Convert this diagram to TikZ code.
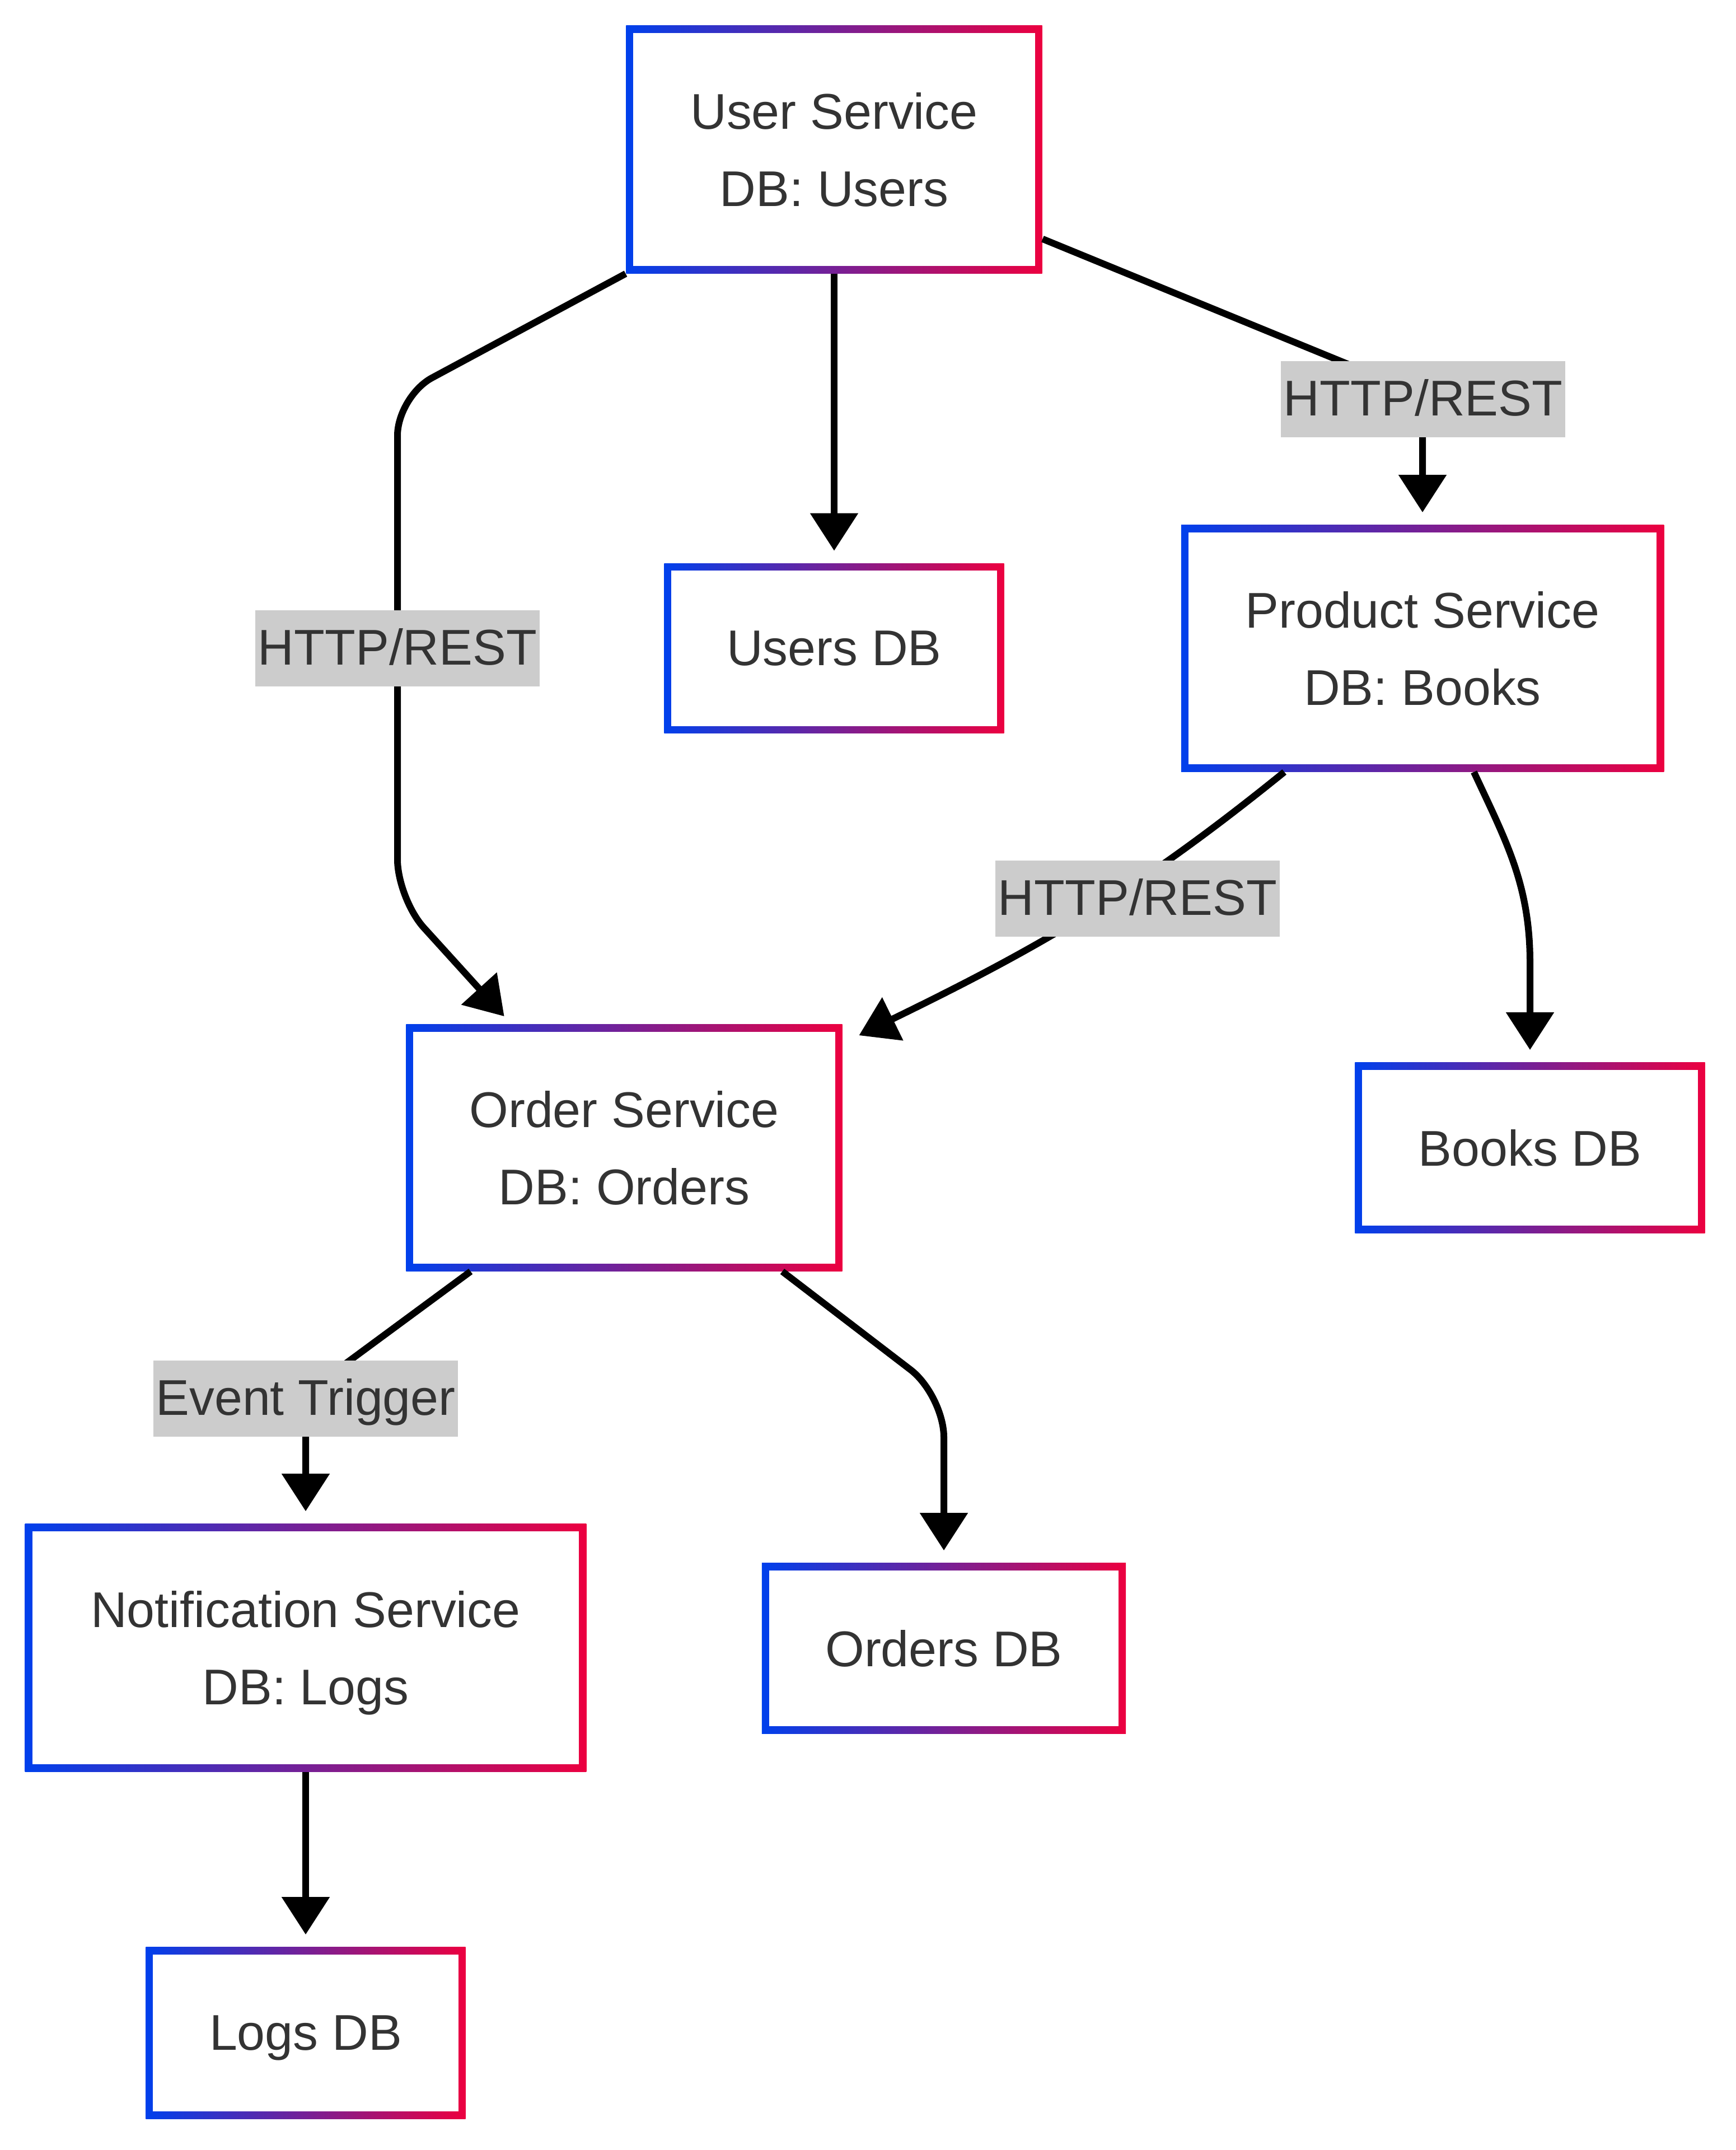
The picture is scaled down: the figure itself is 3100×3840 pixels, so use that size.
\documentclass[tikz,border=0pt]{standalone}
\usepackage{fontspec}
\setmainfont{Liberation Sans}
\usetikzlibrary{arrows.meta}

\definecolor{gblue}{RGB}{0,64,236}
\definecolor{gred}{RGB}{236,0,64}
\definecolor{txtgray}{RGB}{51,51,51}
\definecolor{lblgray}{RGB}{204,204,204}

\tikzset{
  svc/.style={rectangle, fill=white, inner sep=0pt, align=center, text=txtgray,
    text depth=0pt, font=\fontsize{25.5}{39}\selectfont,
    path picture={
      \shade[left color=gblue, right color=gred]
        (path picture bounding box.south west) rectangle (path picture bounding box.north east);
      \fill[white]
        ([shift={(0.13cm,0.13cm)}]path picture bounding box.south west) rectangle
        ([shift={(-0.13cm,-0.13cm)}]path picture bounding box.north east);
    }},
  lbl/.style={fill=lblgray, text=txtgray, inner xsep=0.05cm, inner ysep=0pt,
    minimum height=1.36cm, text height=0.7cm, text depth=0.12cm,
    font=\fontsize{25.5}{39}\selectfont},
  arr/.style={line width=0.12cm, -{Triangle[length=0.67cm,width=0.83cm]}, shorten >=0.22cm}
}

\begin{document}
\begin{tikzpicture}[x=0.01cm,y=0.01cm]
  \useasboundingbox[fill=white] (0,0) rectangle (3100,-3840);

  % Services and databases
  \node[svc, minimum width=7.43cm, minimum height=4.42cm] (us) at (1490,-267) {User Service\\DB: Users};
  \node[svc, minimum width=6.07cm, minimum height=3.03cm] (udb) at (1490,-1158) {Users DB};
  \node[svc, minimum width=8.62cm, minimum height=4.40cm] (ps) at (2541,-1158) {Product Service\\DB: Books};
  \node[svc, minimum width=6.25cm, minimum height=3.04cm] (bdb) at (2733,-2050) {Books DB};
  \node[svc, minimum width=7.79cm, minimum height=4.40cm] (os) at (1115,-2050) {Order Service\\DB: Orders};
  \node[svc, minimum width=10.02cm, minimum height=4.42cm] (nd) at (546,-2943) {Notification Service\\DB: Logs};
  \node[svc, minimum width=6.50cm, minimum height=3.04cm] (odb) at (1686,-2944) {Orders DB};
  \node[svc, minimum width=5.71cm, minimum height=3.06cm] (ldb) at (546,-3631) {Logs DB};

  % Connectors
  \draw[arr, rounded corners=0.7cm, shorten >=0pt] (us.south west) -- (710,-708) -- (710,-1605)
    -- ([xshift=1.76cm,yshift=0.14cm]os.north west);
  \draw[arr] (us.south) -- (udb.north);
  \draw[arr, rounded corners=0.7cm] ([yshift=0.62cm]us.south east) -- (2541,-705) -- (ps.north);
  \draw[arr, shorten >=0pt] ([xshift=1.85cm]ps.south west) to[out=219, in=26]
    ([xshift=0.29cm,yshift=-0.2cm]os.north east);
  \draw[arr] ([xshift=-3.4cm]ps.south east) to[out=-65, in=90] (2733,-1720) -- (bdb.north);
  \draw[arr, rounded corners=0.7cm] ([xshift=1.16cm]os.south west) -- (546,-2488) -- (nd.north);
  \draw[arr, rounded corners=0.75cm] ([xshift=-1.08cm]os.south east) -- (1686,-2492) -- (odb.north);
  \draw[arr] (nd.south) -- (ldb.north);

  % Edge labels
  \node[lbl] (lusps) at (2542,-713) {HTTP/REST};
  \node[lbl] (lusos) at (710,-1158) {HTTP/REST};
  \node[lbl] (lpsos) at (2032,-1605) {HTTP/REST};
  \node[lbl] (losnd) at (546,-2498) {Event Trigger};
\end{tikzpicture}
\end{document}
